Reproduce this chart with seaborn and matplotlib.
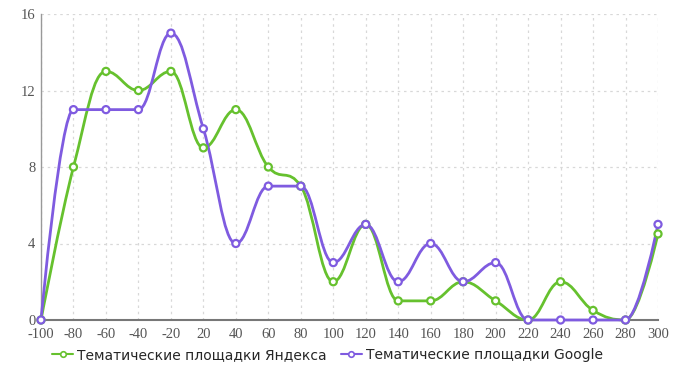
import numpy as np
import pandas as pd
import matplotlib
matplotlib.use("Agg")
import matplotlib.pyplot as plt
from matplotlib.path import Path
from matplotlib.patches import PathPatch
from matplotlib.lines import Line2D
import seaborn as sns

# Дані з графіка
categories = ["-100", "-80", "-60", "-40", "-20", "20", "40", "60", "80", "100",
              "120", "140", "160", "180", "200", "220", "240", "260", "280", "300"]
yandex = [0, 8, 13, 12, 13, 9, 11, 8, 7, 2, 5, 1, 1, 2, 1, 0, 2, 0.5, 0, 4.5]
google = [0, 11, 11, 11, 15, 10, 4, 7, 7, 3, 5, 2, 4, 2, 3, 0, 0, 0, 0, 5]
series_names = ["Тематические площадки Яндекса", "Тематические площадки Google"]
colors = ["#66c12e", "#7f5be0"]

df = pd.DataFrame({
    "x": list(range(len(categories))) * 2,
    "y": yandex + google,
    "series": [series_names[0]] * len(categories) + [series_names[1]] * len(categories),
})


def spline_path(xs, ys, smoothing=1.5):
    # згладжена крива (кубічні Безьє через точки даних)
    n = len(xs)
    left = [None] * n
    right = [None] * n
    denom = smoothing + 1
    for i in range(n):
        px, py = xs[i], ys[i]
        if i == 0 or i == n - 1:
            left[i] = (px, py)
            right[i] = (px, py)
            continue
        lx, ly = xs[i - 1], ys[i - 1]
        nx, ny = xs[i + 1], ys[i + 1]
        lcx = (smoothing * px + lx) / denom
        lcy = (smoothing * py + ly) / denom
        rcx = (smoothing * px + nx) / denom
        rcy = (smoothing * py + ny) / denom
        corr = (rcy - lcy) * (rcx - px) / (rcx - lcx) + py - rcy
        lcy += corr
        rcy += corr
        if lcy > ly and lcy > py:
            lcy = max(ly, py)
            rcy = 2 * py - lcy
        elif lcy < ly and lcy < py:
            lcy = min(ly, py)
            rcy = 2 * py - lcy
        if rcy > ny and rcy > py:
            rcy = max(ny, py)
            lcy = 2 * py - rcy
        elif rcy < ny and rcy < py:
            rcy = min(ny, py)
            lcy = 2 * py - rcy
        left[i] = (lcx, lcy)
        right[i] = (rcx, rcy)
    verts = [(xs[0], ys[0])]
    codes = [Path.MOVETO]
    for i in range(1, n):
        verts += [right[i - 1], left[i], (xs[i], ys[i])]
        codes += [Path.CURVE4] * 3
    return Path(verts, codes)


sns.set_style("white")
plt.rcParams['font.family'] = ['DejaVu Sans']

fig = plt.figure(figsize=(7, 3.87), dpi=100)
ax = fig.add_axes([41 / 700, 1 - 320 / 387, 617 / 700, 306 / 387])

for name, col in zip(series_names, colors):
    sub = df[df["series"] == name]
    path = spline_path(list(sub["x"]), list(sub["y"]))
    ax.add_patch(PathPatch(path, facecolor="none", edgecolor=col, lw=2.0,
                           clip_on=False, zorder=3))

sns.scatterplot(data=df, x="x", y="y", hue="series", palette=colors,
                ax=ax, s=26, facecolor="white", linewidth=1.6, legend=False,
                zorder=4, clip_on=False)
# порожні маркери: білий центр, кольоровий контур
for coll in ax.collections:
    ec = coll.get_facecolors()
    coll.set_edgecolors(ec)
    coll.set_facecolors("white")

ax.set_xlim(0, len(categories) - 1)
ax.set_ylim(0, 16)
ax.set_xticks(range(len(categories)))
ax.set_xticklabels(categories)
ax.set_yticks([0, 4, 8, 12, 16])
ax.set_xlabel("")
ax.set_ylabel("")

ax.grid(True, color="#d8d8d8", linestyle=(0, (2, 3)), linewidth=0.9)
for s in ["top", "right"]:
    ax.spines[s].set_visible(False)
ax.spines["left"].set_color("#999999")
ax.spines["bottom"].set_color("#777777")
ax.spines["bottom"].set_linewidth(1.5)
ax.spines["left"].set_linewidth(1.0)
ax.tick_params(axis="both", length=3, width=0.8, color="#888888",
               labelsize=10.5, labelcolor="#555555")
ax.tick_params(axis="x", pad=2.5)
ax.tick_params(axis="y", pad=1)
for lab in ax.get_xticklabels() + ax.get_yticklabels():
    lab.set_family("Liberation Serif")

handles = [Line2D([0], [0], color=c, lw=1.5, marker="o", markersize=4,
                  markerfacecolor="white", markeredgecolor=c, markeredgewidth=1.2)
           for c in colors]
fig.legend(handles, series_names, loc="center", bbox_to_anchor=(0.468, 1 - 355 / 387),
           ncol=2, frameon=False, fontsize=10, handlelength=1.5, handletextpad=0.3,
           columnspacing=1.0)

plt.savefig("out.png", dpi=100)
